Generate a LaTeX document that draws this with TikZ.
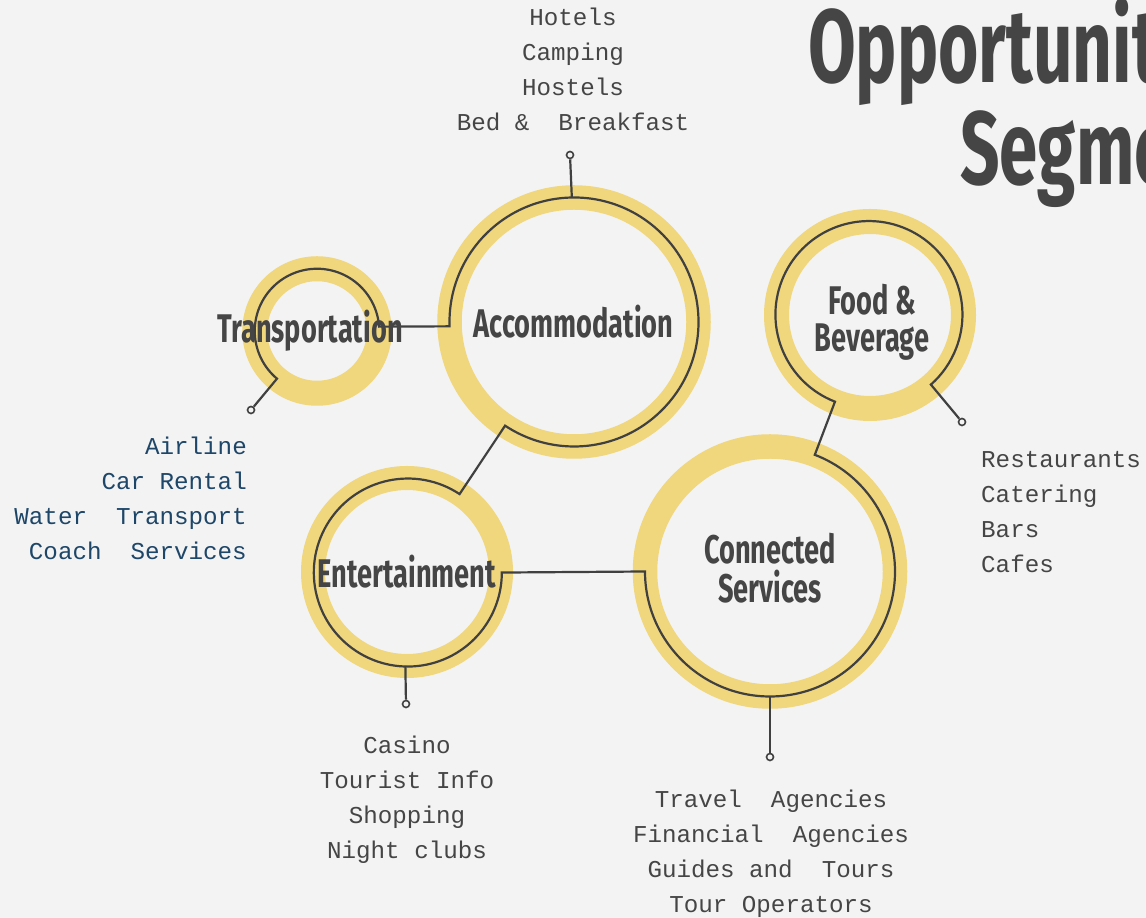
\documentclass[tikz,border=0pt]{standalone}
\usepackage{fontspec}
\setmonofont{Liberation Mono}
\newfontfamily\labelfont[FakeStretch=0.68]{Fira Sans}
\newfontfamily\titlefont[FakeStretch=0.665]{Fira Sans}

\definecolor{bg}{HTML}{F3F3F3}
\definecolor{ringyellow}{HTML}{F0D67C}
\definecolor{wirecol}{HTML}{404040}
\definecolor{ink}{HTML}{454545}
\definecolor{listblue}{HTML}{1D4668}

\tikzset{
  ring/.style={circle, draw=ringyellow, inner sep=0pt, outer sep=0pt},
  wire/.style={draw=wirecol, line width=2.2pt, line join=miter},
  dotend/.style={circle, draw=wirecol, fill=bg, line width=1.6pt,
                 minimum size=7pt, inner sep=0pt},
  seglabel/.style={text=ink, inner sep=0pt, align=center,
                   font=\labelfont\bfseries\fontsize{40}{38}\selectfont},
  itemlist/.style={text=ink, inner sep=0pt,
                   font=\ttfamily\fontsize{24.2}{35.3}\selectfont},
}

\begin{document}
\begin{tikzpicture}[x=1pt,y=1pt]
  \useasboundingbox (0,0) rectangle (1146,918);
  \fill[bg] (0,0) rectangle (1146,918);
  \clip (0,0) rectangle (1146,918);

  % title
  \node[text=ink, inner sep=0pt, anchor=base west,
        font=\titlefont\bfseries\fontsize{104}{104}\selectfont]
        (title1) at (808,835) {Opportunities};
  \node[text=ink, inner sep=0pt, anchor=base west,
        font=\titlefont\bfseries\fontsize{104}{104}\selectfont]
        (title2) at (960,733) {Segments};

  % yellow rings (border = centre line of each ring)
  \node[ring, line width=25pt,   minimum size=124.5pt] (trans) at (317,587)   {};
  \node[ring, line width=24.5pt, minimum size=249pt]   (acc)   at (574,596)   {};
  \node[ring, line width=24pt,   minimum size=188pt]   (ent)   at (407,346)   {};
  \node[ring, line width=24.5pt, minimum size=250pt]   (con)   at (770,346.5) {};
  \node[ring, line width=25pt,   minimum size=187pt]   (food)  at (870,603)   {};

  % end points
  \node[dotend] (dT) at (251,508) {};
  \node[dotend] (dA) at (570,763) {};
  \node[dotend] (dE) at (406,214) {};
  \node[dotend] (dC) at (770,161) {};
  \node[dotend] (dF) at (962,496) {};

  % the running line through all five segments
  \draw[wire] (dT) -- (trans.230)
      arc[start angle=230, end angle=4, radius=62.25]
      -- (acc.182)
      arc[start angle=182, end angle=-123.6, radius=124.5]
      -- (ent.56.6)
      arc[start angle=56.6, end angle=360, radius=94]
      -- (con.180)
      arc[start angle=180, end angle=429, radius=125]
      -- (food.248.7)
      arc[start angle=248.7, end angle=-48.5, radius=93.5]
      -- (dF);

  % short stems to the item lists
  \draw[wire] (acc.91.8) -- (dA);
  \draw[wire] (ent.269.4) -- (dE);
  \draw[wire] (con.270) -- (dC);

  % segment names (base = baseline of the last line)
  \node[seglabel, anchor=base] (transT) at (310,575) {Transportation};
  \node[seglabel, anchor=base] (accT)   at (573.5,580) {Accommodation};
  \node[seglabel, anchor=base] (entT)   at (407,330) {Entertainment};
  \node[seglabel, anchor=base, font=\labelfont\bfseries\fontsize{40}{37}\selectfont]
        (foodT) at (872,566) {Food \&\\Beverage};
  \node[seglabel, anchor=base, font=\labelfont\bfseries\fontsize{40}{39}\selectfont]
        (conT) at (770,315) {Connected\\Services};

  % item lists (base = baseline of the last line)
  \node[itemlist, align=center, anchor=base] (accL) at (573,787)
        {Hotels\\Camping\\Hostels\\Bed~\&~~Breakfast};
  \node[itemlist, align=right, anchor=base east, text=listblue] (transL) at (247,358)
        {Airline\\Car~Rental\\Water~~Transport\\Coach~~Services};
  \node[itemlist, align=left, anchor=base west] (foodL) at (981,345)
        {Restaurants\\Catering\\Bars\\Cafes};
  \node[itemlist, align=center, anchor=base] (entL) at (407,59)
        {Casino\\Tourist~Info\\Shopping\\Night~clubs};
  \node[itemlist, align=center, anchor=base] (conL) at (771,5)
        {Travel~~Agencies\\Financial~~Agencies\\Guides~and~~Tours\\Tour~Operators};
\end{tikzpicture}
\end{document}
